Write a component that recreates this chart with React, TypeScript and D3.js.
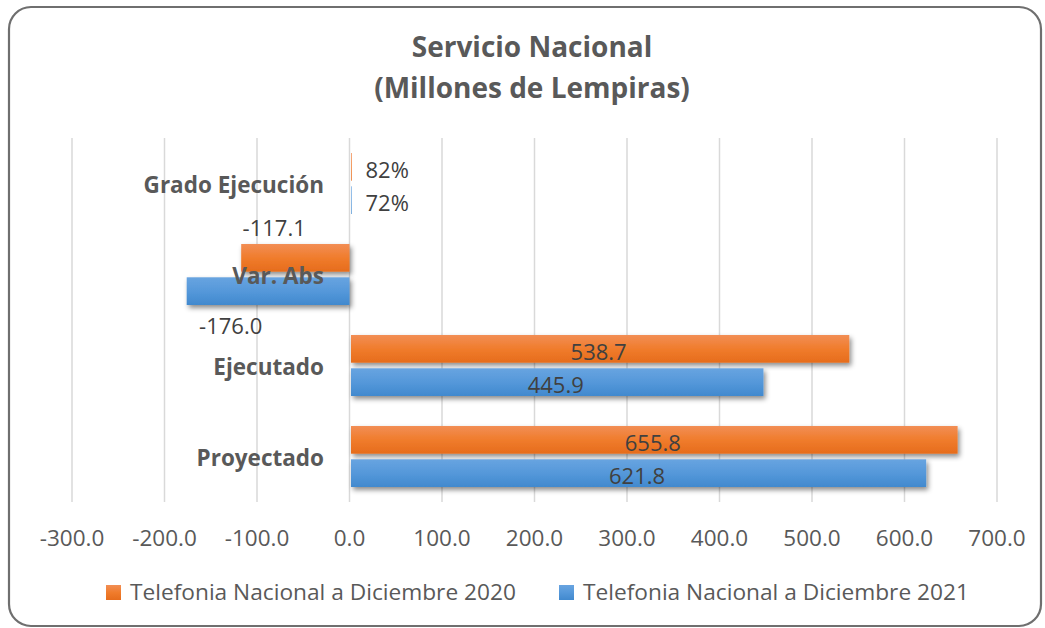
import React from "react";
import * as d3 from "d3";

const categories = ["Grado Ejecución", "Var. Abs", "Ejecutado", "Proyectado"];
const series2020 = [0.82, -117.1, 538.7, 655.8];
const series2021 = [0.72, -176.0, 445.9, 621.8];
const labels2020 = ["82%", "-117.1", "538.7", "655.8"];
const labels2021 = ["72%", "-176.0", "445.9", "621.8"];
const seriesNames = ["Telefonia Nacional a Diciembre 2020", "Telefonia Nacional a Diciembre 2021"];
const ticks = [-300, -200, -100, 0, 100, 200, 300, 400, 500, 600, 700];

const W = 1045;
const H = 628;
const FONT = "'Open Sans', 'Noto Sans', sans-serif";

const fmtTick = (t: number) => d3.format(".1f")(t).replace("\u2212", "-");

export default function App() {
  const x = d3.scaleLinear().domain([-300, 700]).range([72, 997]);
  const y = d3.scaleBand<string>().domain(categories).range([138, 502]);
  const barH = 27.7;
  const gap = 5.6;
  const series = [
    { values: series2020, labels: labels2020, grad: "gOrange", off: -1 },
    { values: series2021, labels: labels2021, grad: "gBlue", off: 1 },
  ];

  const labelPos = (ci: number, si: number, v: number, barY: number) => {
    const cy = barY + barH / 2;
    if (ci === 0) {
      return { lx: x(0) + 16, ly: cy + 11, anchor: "start" };
    }
    if (ci === 1) {
      if (si === 0) return { lx: x(v) + 33, ly: barY - 8, anchor: "middle" };
      return { lx: x(v) + 44, ly: barY + barH + 29, anchor: "middle" };
    }
    return { lx: (x(0) + x(v)) / 2, ly: cy + 11, anchor: "middle" };
  };

  return (
    <svg
      width={W}
      height={H}
      style={{ position: "absolute", left: 0, top: 0, display: "block" }}
    >
      <defs>
        <linearGradient id="gOrange" x1="0" y1="0" x2="0" y2="1">
          <stop offset="0" stopColor="#f28e55" />
          <stop offset="0.5" stopColor="#f07c2c" />
          <stop offset="1" stopColor="#e66c1c" />
        </linearGradient>
        <linearGradient id="gBlue" x1="0" y1="0" x2="0" y2="1">
          <stop offset="0" stopColor="#68a4e0" />
          <stop offset="0.5" stopColor="#5598da" />
          <stop offset="1" stopColor="#4189ce" />
        </linearGradient>
        <filter id="shadow" x="-10%" y="-30%" width="130%" height="180%">
          <feDropShadow dx="2" dy="3" stdDeviation="2.5" floodColor="#000" floodOpacity="0.45" />
        </filter>
      </defs>
      <rect x={9} y={7} width={1032} height={619} rx={22} ry={22} fill="#fff" stroke="#6f6f6f" strokeWidth={2.2} />

      <text x={532} y={57} textAnchor="middle" fontFamily={FONT} fontWeight={700} fontSize={28} fill="#595959">
        Servicio Nacional
      </text>
      <text x={532} y={98} textAnchor="middle" fontFamily={FONT} fontWeight={700} fontSize={28} fill="#595959">
        (Millones de Lempiras)
      </text>

      {ticks.map((t) => (
        <line key={"g" + t} x1={x(t)} x2={x(t)} y1={138} y2={502} stroke="#d9d9d9" strokeWidth={1.5} />
      ))}

      {series.map((s, si) =>
        categories.map((c, ci) => {
          const v = s.values[ci];
          const cy = (y(c) as number) + y.bandwidth() / 2;
          const barY = s.off < 0 ? cy - gap / 2 - barH : cy + gap / 2;
          const x0 = Math.min(x(0), x(v));
          const w = Math.abs(x(v) - x(0));
          return (
            <rect
              key={"b" + si + ci}
              x={v >= 0 ? x0 + 1.5 : x0}
              y={barY}
              width={w}
              height={barH}
              fill={`url(#${s.grad})`}
              filter={w > 3 ? "url(#shadow)" : undefined}
            />
          );
        })
      )}

      {categories.map((c) => (
        <text
          key={"c" + c}
          x={324}
          y={(y(c) as number) + y.bandwidth() / 2 + 9}
          textAnchor="end"
          fontFamily={FONT}
          fontWeight={700}
          fontSize={22.5}
          fill="#595959"
        >
          {c}
        </text>
      ))}

      {series.map((s, si) =>
        categories.map((c, ci) => {
          const v = s.values[ci];
          const cy = (y(c) as number) + y.bandwidth() / 2;
          const barY = s.off < 0 ? cy - gap / 2 - barH : cy + gap / 2;
          const p = labelPos(ci, si, v, barY);
          return (
            <text
              key={"l" + si + ci}
              x={p.lx}
              y={p.ly}
              textAnchor={p.anchor as any}
              fontFamily={FONT}
              fontSize={22}
              fill="#404040"
            >
              {s.labels[ci]}
            </text>
          );
        })
      )}

      {ticks.map((t) => (
        <text key={"t" + t} x={x(t)} y={546} textAnchor="middle" fontFamily={FONT} fontSize={22.5} fill="#595959">
          {fmtTick(t)}
        </text>
      ))}

      <rect x={106} y={585} width={15} height={15} fill="url(#gOrange)" />
      <text x={130} y={600} fontFamily={FONT} fontSize={22.7} fill="#595959">
        {seriesNames[0]}
      </text>
      <rect x={559} y={585} width={15} height={15} fill="url(#gBlue)" />
      <text x={583} y={600} fontFamily={FONT} fontSize={22.7} fill="#595959">
        {seriesNames[1]}
      </text>
    </svg>
  );
}
